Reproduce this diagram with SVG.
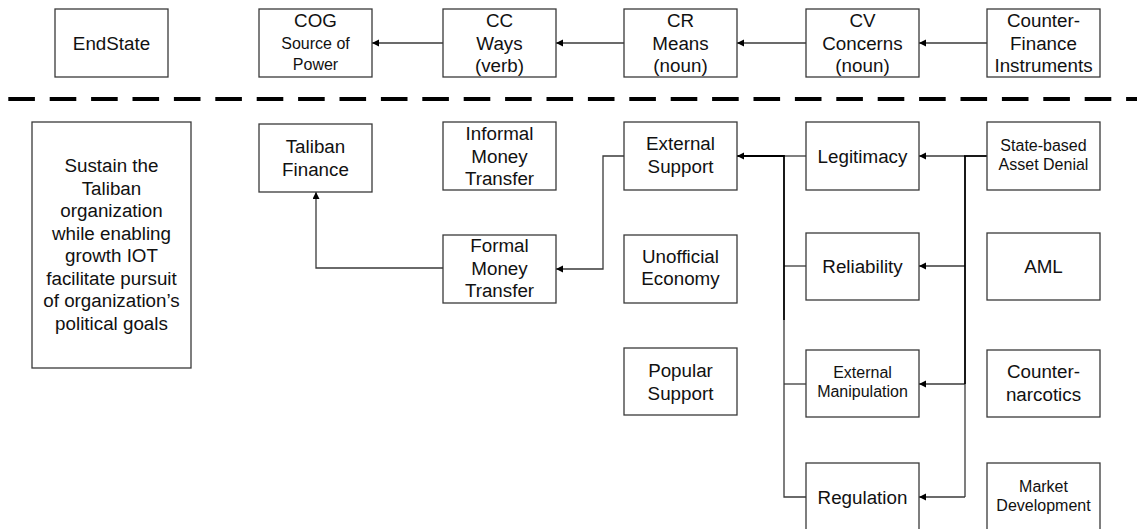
<svg xmlns="http://www.w3.org/2000/svg" width="1137" height="529" viewBox="0 0 1137 529">
<style>
rect.box{fill:#fff;stroke:#3a3a3a;stroke-width:1.3}
text{font-family:"Liberation Sans",Arial,sans-serif;font-size:18.8px;fill:#111;text-anchor:middle}
text.s{font-size:16px}
.c{fill:none;stroke:#3a3a3a;stroke-width:1.3}
.k{fill:none;stroke:#000;stroke-width:1.8}
</style>
<defs>
<marker id="ah" markerUnits="userSpaceOnUse" markerWidth="9" markerHeight="9" refX="7" refY="3.5" orient="auto">
<path d="M0,0 L7,3.5 L0,7 z" fill="#000"/>
</marker>
</defs>
<rect width="1137" height="529" fill="#fff"/>
<line x1="8.3" y1="99" x2="1137" y2="99" stroke="#000" stroke-width="4" stroke-dasharray="26.6 14.8"/>
<g id="connectors">
<line class="c" x1="443" y1="43" x2="372" y2="43" marker-end="url(#ah)"/>
<line class="c" x1="624" y1="43" x2="556" y2="43" marker-end="url(#ah)"/>
<line class="c" x1="806" y1="43" x2="737" y2="43" marker-end="url(#ah)"/>
<line class="c" x1="987" y1="43" x2="919" y2="43" marker-end="url(#ah)"/>
<polyline class="c" points="443,268 316,268 316,192" marker-end="url(#ah)"/>
<polyline class="c" points="624,156 603,156 603,269 556,269" marker-end="url(#ah)"/>
<line class="c" x1="784" y1="156" x2="806" y2="156"/>
<line class="c" x1="784" y1="266" x2="806" y2="266"/>
<line class="c" x1="784" y1="384" x2="806" y2="384"/>
<polyline class="c" points="784,320 784,497 806,497"/>
<line class="k" x1="784" y1="156" x2="737" y2="156" marker-end="url(#ah)"/>
<line class="k" x1="784" y1="155.1" x2="784" y2="320"/>
<line class="c" x1="965" y1="384" x2="965" y2="497"/>
<line class="c" x1="965" y1="156" x2="919" y2="156" marker-end="url(#ah)"/>
<line class="c" x1="965" y1="266" x2="919" y2="266" marker-end="url(#ah)"/>
<line class="c" x1="965" y1="384" x2="919" y2="384" marker-end="url(#ah)"/>
<line class="c" x1="965" y1="497" x2="919" y2="497" marker-end="url(#ah)"/>
<line class="k" x1="987" y1="156" x2="964.1" y2="156"/>
<line class="k" x1="965" y1="156" x2="965" y2="384"/>
</g>
<g id="endstate"><rect class="box" x="55" y="9" width="113" height="68"/><text x="111.5" y="49.5">EndState</text></g>
<g id="cog"><rect class="box" x="259" y="9" width="113" height="68"/><text x="315.5" y="27">COG</text><text class="s" x="315.5" y="49">Source of</text><text class="s" x="315.5" y="70">Power</text></g>
<g id="cc"><rect class="box" x="443" y="9" width="113" height="68"/><text x="499.5" y="27">CC</text><text x="499.5" y="49.5">Ways</text><text x="499.5" y="72">(verb)</text></g>
<g id="cr"><rect class="box" x="624" y="9" width="113" height="68"/><text x="680.5" y="27">CR</text><text x="680.5" y="49.5">Means</text><text x="680.5" y="72">(noun)</text></g>
<g id="cv"><rect class="box" x="806" y="9" width="113" height="68"/><text x="862.5" y="27">CV</text><text x="862.5" y="49.5">Concerns</text><text x="862.5" y="72">(noun)</text></g>
<g id="cfi"><rect class="box" x="987" y="9" width="113" height="68"/><text x="1043.5" y="27">Counter-</text><text x="1043.5" y="49.5">Finance</text><text x="1043.5" y="72">Instruments</text></g>
<g id="sustain"><rect class="box" x="32" y="122" width="159" height="246"/>
<text x="111.5" y="172">Sustain the</text><text x="111.5" y="194.5">Taliban</text><text x="111.5" y="217">organization</text><text x="111.5" y="239.5">while enabling</text><text x="111.5" y="262">growth IOT</text><text x="111.5" y="284.5">facilitate pursuit</text><text x="111.5" y="307">of organization’s</text><text x="111.5" y="329.5">political goals</text></g>
<g id="taliban-finance"><rect class="box" x="259" y="124" width="113" height="68"/><text x="315.5" y="153">Taliban</text><text x="315.5" y="175.5">Finance</text></g>
<g id="informal"><rect class="box" x="443" y="122" width="113" height="68"/><text x="499.5" y="140">Informal</text><text x="499.5" y="162.5">Money</text><text x="499.5" y="185">Transfer</text></g>
<g id="external-support"><rect class="box" x="624" y="122" width="113" height="68"/><text x="680.5" y="150">External</text><text x="680.5" y="172.5">Support</text></g>
<g id="legitimacy"><rect class="box" x="806" y="122" width="113" height="68"/><text x="862.5" y="162.5">Legitimacy</text></g>
<g id="state-based"><rect class="box" x="987" y="122" width="113" height="68"/><text class="s" x="1043.5" y="151">State-based</text><text class="s" x="1043.5" y="170">Asset Denial</text></g>
<g id="formal"><rect class="box" x="443" y="235" width="113" height="68"/><text x="499.5" y="252">Formal</text><text x="499.5" y="274.5">Money</text><text x="499.5" y="297">Transfer</text></g>
<g id="unofficial"><rect class="box" x="624" y="235" width="113" height="68"/><text x="680.5" y="262.5">Unofficial</text><text x="680.5" y="285">Economy</text></g>
<g id="reliability"><rect class="box" x="806" y="233" width="113" height="67"/><text x="862.5" y="273">Reliability</text></g>
<g id="aml"><rect class="box" x="987" y="233" width="113" height="67"/><text x="1043.5" y="273">AML</text></g>
<g id="popular"><rect class="box" x="624" y="348" width="113" height="67"/><text x="680.5" y="377">Popular</text><text x="680.5" y="399.5">Support</text></g>
<g id="ext-manip"><rect class="box" x="806" y="350" width="113" height="67"/><text class="s" x="862.5" y="378">External</text><text class="s" x="862.5" y="397">Manipulation</text></g>
<g id="counternarcotics"><rect class="box" x="987" y="350" width="113" height="67"/><text x="1043.5" y="378">Counter-</text><text x="1043.5" y="400.5">narcotics</text></g>
<g id="regulation"><rect class="box" x="806" y="463" width="113" height="68"/><text x="862.5" y="503.5">Regulation</text></g>
<g id="market"><rect class="box" x="987" y="463" width="113" height="68"/><text class="s" x="1043.5" y="492">Market</text><text class="s" x="1043.5" y="511">Development</text></g>
</svg>
